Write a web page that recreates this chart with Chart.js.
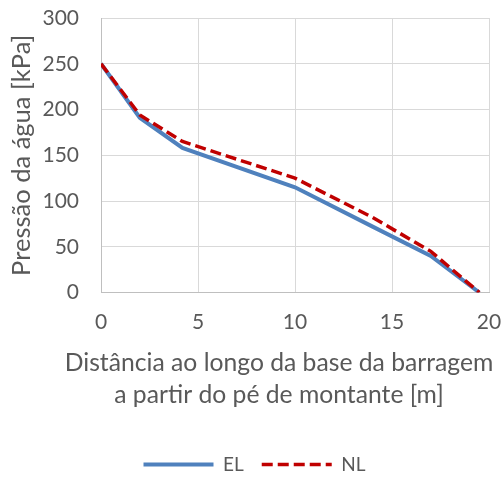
<!DOCTYPE html>
<html>
<head>
<meta charset="utf-8">
<script src="https://cdn.jsdelivr.net/npm/chart.js@4/dist/chart.umd.min.js"></script>
<style>
  html, body { margin: 0; padding: 0; background: #fff; }
</style>
</head>
<body>
<canvas id="grafico" width="503" height="477"></canvas>
<script>
// Distância (m) e pressão (kPa)
const distancias = [0, 2, 4.2, 10, 14, 17, 19.5];
const pressaoEL = [250, 191, 158, 115, 72, 40, 0];
const pressaoNL = [250, 194, 165, 125, 82, 45, 0];
const nomesSeries = ['EL', 'NL'];
const tituloX = ['Distância ao longo da base da barragem', 'a partir do pé de montante [m]'];
const tituloY = 'Pressão da água [kPa]';

const fonte = 'Lato, "Open Sans", sans-serif';
const cinzaTexto = '#595959';

const pontos = valores => distancias.map((d, i) => ({ x: d, y: valores[i] }));

// titulo do eixo x: no original ele fica um pouco a esquerda do centro do grafico
const tituloEixoX = {
  id: 'tituloEixoX',
  afterDraw(chart) {
    const ctx = chart.ctx;
    ctx.save();
    ctx.font = '24.7px ' + fonte;
    ctx.fillStyle = cinzaTexto;
    ctx.textAlign = 'center';
    ctx.textBaseline = 'middle';
    tituloX.forEach((linha, i) => ctx.fillText(linha, 279, 363 + i * 32));
    ctx.restore();
  }
};

new Chart(document.getElementById('grafico'), {
  type: 'scatter',
  data: {
    datasets: [
      {
        label: nomesSeries[0],
        data: pontos(pressaoEL),
        showLine: true,
        borderColor: '#4f81bd',
        backgroundColor: '#4f81bd',
        borderWidth: 4,
        pointRadius: 0,
        pointStyle: 'line',
        order: 2
      },
      {
        label: nomesSeries[1],
        data: pontos(pressaoNL),
        showLine: true,
        borderColor: '#c00000',
        backgroundColor: '#c00000',
        borderWidth: 3.5,
        borderDash: [11, 5],
        pointRadius: 0,
        pointStyle: 'line',
        order: 1
      }
    ]
  },
  plugins: [tituloEixoX],
  options: {
    responsive: false,
    animation: false,
    devicePixelRatio: 1,
    layout: { padding: { top: 0, right: 4, left: 10, bottom: -7 } },
    plugins: {
      tooltip: { enabled: false },
      legend: {
        position: 'bottom',
        labels: {
          usePointStyle: true,
          pointStyleWidth: 70,
          padding: 18,
          color: cinzaTexto,
          font: { family: fonte, size: 19 },
          sort: (a, b) => a.datasetIndex - b.datasetIndex,
          // a legenda com pointStyle perde o tracejado, entao copia do dataset
          generateLabels: chart => {
            const itens = Chart.defaults.plugins.legend.labels.generateLabels(chart);
            itens.forEach(item => {
              const ds = chart.data.datasets[item.datasetIndex];
              item.lineDash = ds.borderDash || [];
              item.lineWidth = ds.borderWidth;
              item.strokeStyle = ds.borderColor;
            });
            return itens;
          }
        }
      }
    },
    scales: {
      x: {
        type: 'linear',
        min: 0,
        max: 20,
        ticks: { stepSize: 5, color: cinzaTexto, padding: 17, font: { family: fonte, size: 21 } },
        grid: { color: '#d9d9d9', drawTicks: false },
        border: { color: '#bfbfbf' },
        afterFit: escala => {
          escala.height = 144.5;
          escala.paddingLeft = 0;
          escala.paddingRight = 14;
        }
      },
      y: {
        min: 0,
        max: 300,
        ticks: { stepSize: 50, color: cinzaTexto, padding: 22, font: { family: fonte, size: 21 } },
        grid: { color: '#d9d9d9', drawTicks: false },
        border: { color: '#bfbfbf' },
        title: {
          display: true,
          text: tituloY,
          color: cinzaTexto,
          font: { family: fonte, size: 25.5 },
          padding: { top: -4, bottom: 0 }
        },
        afterFit: escala => {
          escala.width = 91;
          escala.paddingTop = 18;
          escala.paddingBottom = 0;
        }
      }
    }
  }
});
</script>
</body>
</html>
